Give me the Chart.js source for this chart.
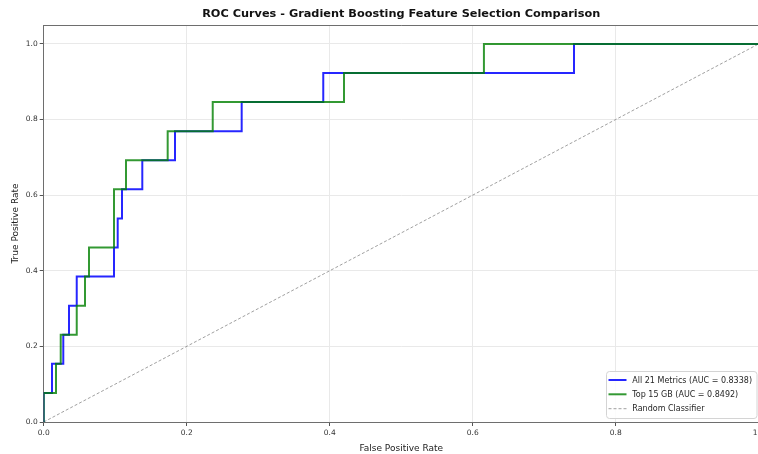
<!DOCTYPE html>
<html>
<head>
<meta charset="utf-8">
<script src="https://cdn.jsdelivr.net/npm/chart.js@4.4.1/dist/chart.umd.min.js"></script>
<style>
  html, body { margin: 0; padding: 0; background: #fff; overflow: hidden; }
  #wrap { width: 758px; height: 454px; overflow: hidden; }
  canvas { display: block; }
</style>
</head>
<body>
<div id="wrap"><canvas id="roc" width="780" height="454"></canvas></div>
<script>
// ROC curve vertices (false positive rate / true positive rate)
const allFpr = [0, 0, 0.0116, 0.0116, 0.0274, 0.0274, 0.0354, 0.0354, 0.0462, 0.0462, 0.0983, 0.0983, 0.1035, 0.1035, 0.1095, 0.1095, 0.1379, 0.1379, 0.1836, 0.1836, 0.2769, 0.2769, 0.3910, 0.3910, 0.7417, 0.7417, 1.0];
const allTpr = [0, 0.0769, 0.0769, 0.1538, 0.1538, 0.2308, 0.2308, 0.3077, 0.3077, 0.3846, 0.3846, 0.4615, 0.4615, 0.5385, 0.5385, 0.6154, 0.6154, 0.6923, 0.6923, 0.7692, 0.7692, 0.8462, 0.8462, 0.9231, 0.9231, 1.0, 1.0];

const topFpr = [0, 0, 0.0172, 0.0172, 0.0238, 0.0238, 0.0462, 0.0462, 0.0578, 0.0578, 0.0634, 0.0634, 0.0983, 0.0983, 0.1151, 0.1151, 0.1734, 0.1734, 0.2364, 0.2364, 0.4200, 0.4200, 0.6157, 0.6157, 1.0];
const topTpr = [0, 0.0769, 0.0769, 0.1538, 0.1538, 0.2308, 0.2308, 0.3077, 0.3077, 0.3846, 0.3846, 0.4615, 0.4615, 0.6154, 0.6154, 0.6923, 0.6923, 0.7692, 0.7692, 0.8462, 0.8462, 0.9231, 0.9231, 1.0, 1.0];

const chanceFpr = [0, 1];
const chanceTpr = [0, 1];

const seriesLabels = ['All 21 Metrics (AUC = 0.8338)', 'Top 15 GB (AUC = 0.8492)', 'Random Classifier'];
const axisTicks = [0, 0.2, 0.4, 0.6, 0.8, 1.0];
const chartTitle = 'ROC Curves - Gradient Boosting Feature Selection Comparison';

const FONT = "'DejaVu Sans', 'Liberation Sans', sans-serif";
const toPoints = (xs, ys) => xs.map((x, i) => ({ x: x, y: ys[i] }));

// Title, top spine and the legend box drawn inside the plot area
const decorations = {
  id: 'decorations',
  afterDraw(chart) {
    const ctx = chart.ctx;
    const a = chart.chartArea;
    ctx.save();

    // top spine
    ctx.strokeStyle = '#6e6e6e';
    ctx.lineWidth = 1;
    ctx.beginPath();
    ctx.moveTo(a.left, Math.round(a.top) + 0.5);
    ctx.lineTo(a.right, Math.round(a.top) + 0.5);
    ctx.stroke();

    // title
    ctx.fillStyle = '#111';
    ctx.font = 'bold 11.3px ' + FONT;
    ctx.textAlign = 'center';
    ctx.textBaseline = 'middle';
    ctx.fillText(chartTitle, (a.left + a.right) / 2, 14);

    // legend
    const ds = chart.data.datasets;
    const bx = 606.5, by = 371.5, bw = 150.5, bh = 47, r = 3;
    ctx.fillStyle = 'rgba(255,255,255,0.85)';
    ctx.strokeStyle = '#d4d4d4';
    ctx.lineWidth = 1;
    ctx.beginPath();
    ctx.roundRect(bx, by, bw, bh, r);
    ctx.fill();
    ctx.stroke();

    ctx.font = '8px ' + FONT;
    ctx.textAlign = 'left';
    ctx.textBaseline = 'middle';
    const rows = [380, 394.3, 408.7];
    ds.forEach((d, i) => {
      const y = rows[i];
      ctx.save();
      ctx.strokeStyle = d.borderColor;
      ctx.lineWidth = d.borderWidth;
      ctx.setLineDash(d.borderDash || []);
      ctx.beginPath();
      ctx.moveTo(608.5, y);
      ctx.lineTo(626.5, y);
      ctx.stroke();
      ctx.restore();
      ctx.fillStyle = '#262626';
      ctx.fillText(d.label, 632.3, y + 0.5);
    });
    ctx.restore();
  }
};

new Chart(document.getElementById('roc'), {
  type: 'line',
  data: {
    datasets: [
      {
        label: seriesLabels[0],
        data: toPoints(allFpr, allTpr),
        borderColor: 'rgba(0,0,255,0.85)',
        borderWidth: 2,
        pointRadius: 0,
        tension: 0,
        fill: false,
        order: 1
      },
      {
        label: seriesLabels[1],
        data: toPoints(topFpr, topTpr),
        borderColor: 'rgba(0,128,0,0.8)',
        borderWidth: 2,
        pointRadius: 0,
        tension: 0,
        fill: false,
        order: 0
      },
      {
        label: seriesLabels[2],
        data: toPoints(chanceFpr, chanceTpr),
        borderColor: 'rgba(128,128,128,0.75)',
        borderWidth: 1,
        borderDash: [3, 2],
        pointRadius: 0,
        tension: 0,
        fill: false,
        order: 2
      }
    ]
  },
  options: {
    responsive: false,
    devicePixelRatio: 1,
    animation: false,
    layout: { padding: { top: 25, right: 21.3, bottom: 0, left: 0 } },
    plugins: {
      legend: { display: false },
      tooltip: { enabled: false },
      title: { display: false }
    },
    scales: {
      x: {
        type: 'linear',
        min: 0,
        max: 1,
        afterBuildTicks: (s) => { s.ticks = axisTicks.map(v => ({ value: v })); },
        afterFit: (s) => { s.height = 32; },
        ticks: {
          font: { family: FONT, size: 7.5 },
          color: '#333',
          padding: 3,
          maxRotation: 0,
          callback: (v) => Number(v).toFixed(1)
        },
        grid: { color: '#e9e9e9', lineWidth: 1, tickLength: 4, tickColor: '#555' },
        border: { color: '#6e6e6e', width: 1 },
        title: {
          display: true,
          text: 'False Positive Rate',
          font: { family: FONT, size: 9 },
          color: '#222',
          padding: { top: 0, bottom: 0.4 }
        }
      },
      y: {
        type: 'linear',
        min: 0,
        max: 1.05,
        afterBuildTicks: (s) => { s.ticks = axisTicks.map(v => ({ value: v })); },
        afterFit: (s) => { s.width = 43.7; },
        ticks: {
          font: { family: FONT, size: 7.5 },
          color: '#333',
          padding: 2,
          callback: (v) => Number(v).toFixed(1)
        },
        grid: { color: '#e9e9e9', lineWidth: 1, tickLength: 4, tickColor: '#555' },
        border: { color: '#6e6e6e', width: 1 },
        title: {
          display: true,
          text: 'True Positive Rate',
          font: { family: FONT, size: 9 },
          color: '#222',
          padding: { top: 10.6, bottom: 0 }
        }
      }
    }
  },
  plugins: [decorations]
});
</script>
</body>
</html>
